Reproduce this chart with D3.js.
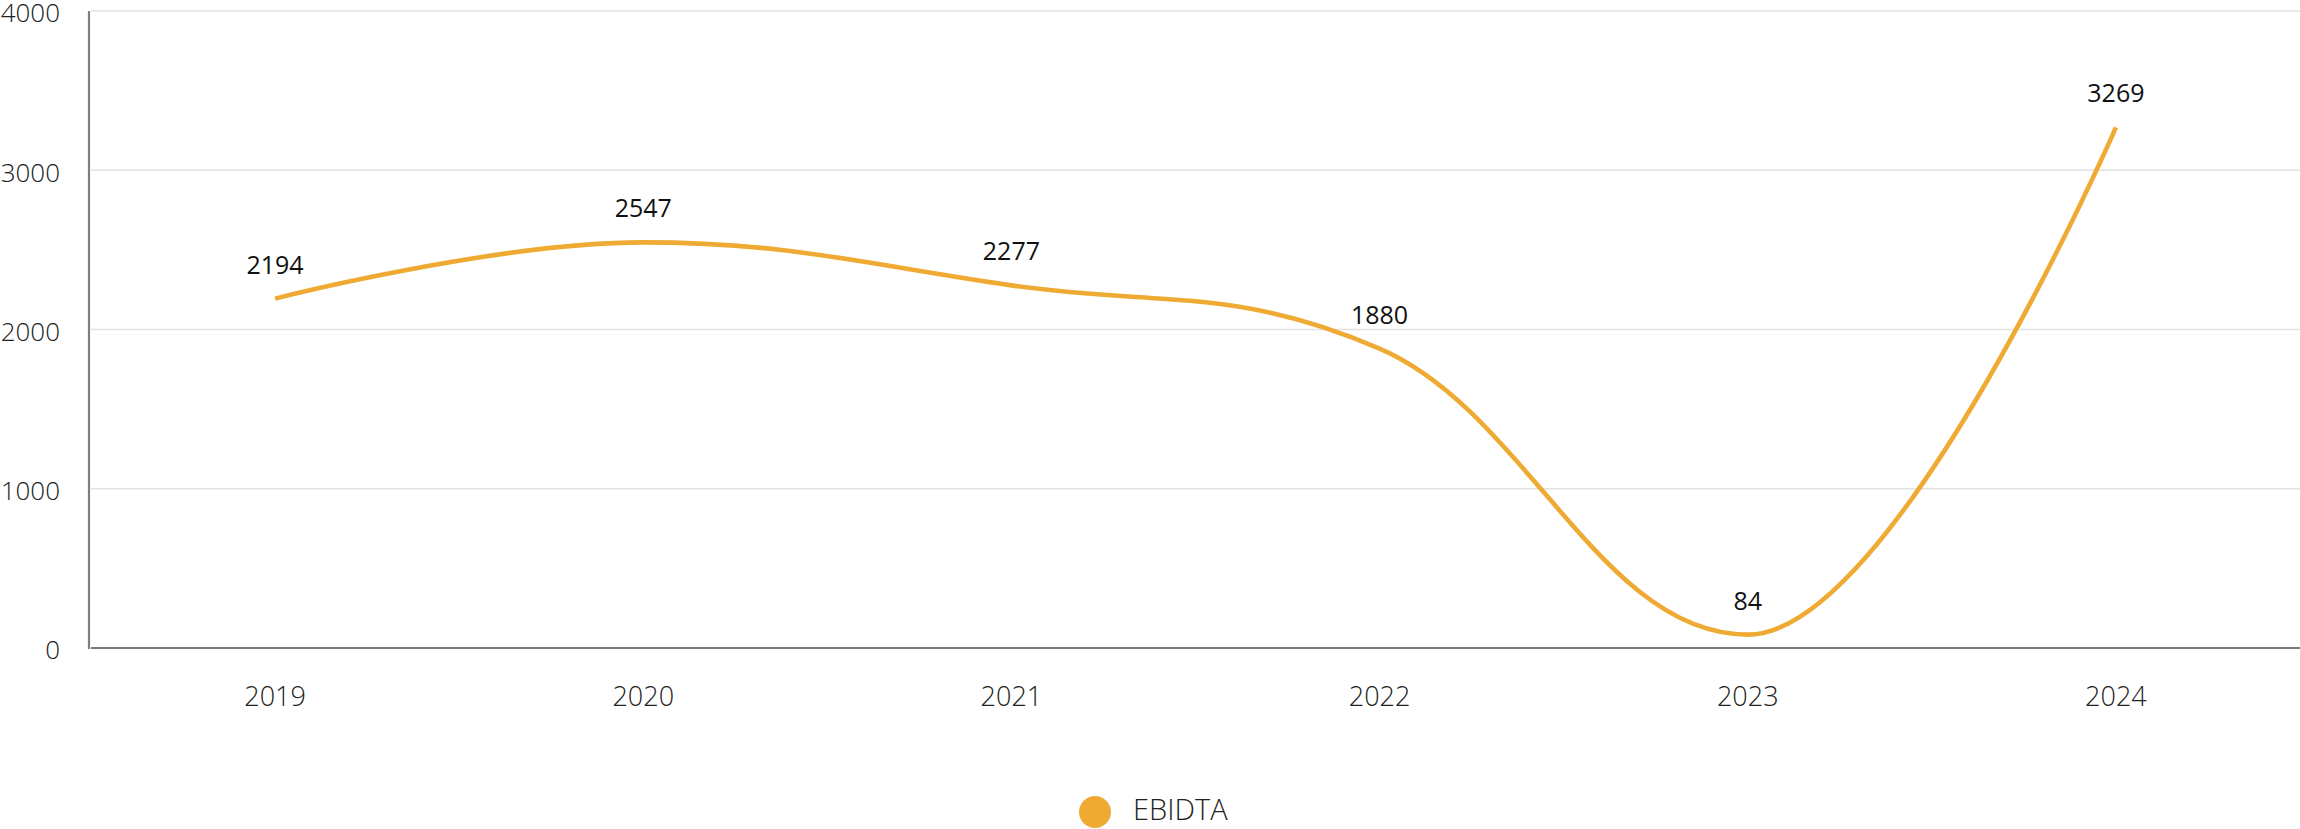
<!DOCTYPE html>
<html>
<head>
<meta charset="utf-8">
<script src="https://cdn.jsdelivr.net/npm/d3@7"></script>
<style>
  html, body { margin: 0; padding: 0; background: #fff; }
  svg { display: block; }
  text { font-family: "Open Sans", "Noto Sans", sans-serif; }
</style>
</head>
<body>
<svg id="chart" width="2300" height="829"></svg>
<script>
// ---- data ----
const years = ["2019", "2020", "2021", "2022", "2023", "2024"];
const ebidta = [2194, 2547, 2277, 1880, 84, 3269];
const yTicks = [0, 1000, 2000, 3000, 4000];
const seriesName = "EBIDTA";
const seriesColor = "#EFAA33";

const W = 2300, H = 829;
const plot = { left: 89, right: 2300, top: 11, bottom: 648 };

const svg = d3.select("#chart");

const x = d3.scalePoint().domain(years).range([plot.left + 2, plot.right]).padding(0.5);
const y = d3.scaleLinear().domain([0, 4000]).range([plot.bottom, plot.top]);

// gridlines
svg.append("g").selectAll("line")
  .data(yTicks.filter(d => d > 0))
  .join("line")
  .attr("x1", plot.left + 2).attr("x2", plot.right)
  .attr("y1", d => y(d)).attr("y2", d => y(d))
  .attr("stroke", "#e2e2e2").attr("stroke-width", 1.6);

// y axis labels
svg.append("g").selectAll("text")
  .data(yTicks)
  .join("text")
  .attr("x", 60).attr("y", d => y(d) + 2)
  .attr("dy", "0.36em")
  .attr("text-anchor", "end")
  .attr("font-size", 26).attr("font-weight", 300)
  .attr("fill", "#222")
  .text(d => d);

// x axis labels
svg.append("g").selectAll("text")
  .data(years)
  .join("text")
  .attr("x", d => x(d)).attr("y", 696)
  .attr("dy", "0.36em")
  .attr("text-anchor", "middle")
  .attr("font-size", 27).attr("font-weight", 300)
  .attr("fill", "#222")
  .text(d => d);

// axes lines
svg.append("line")
  .attr("x1", plot.left).attr("x2", plot.left)
  .attr("y1", plot.top).attr("y2", plot.bottom + 1)
  .attr("stroke", "#808080").attr("stroke-width", 2.2);
svg.append("line")
  .attr("x1", plot.left + 2).attr("x2", plot.right)
  .attr("y1", plot.bottom).attr("y2", plot.bottom)
  .attr("stroke", "#7a7a7a").attr("stroke-width", 2.2);

// spline (smoothing 1.5 with extreme-correction)
const pts = years.map((yr, i) => ({ x: x(yr), y: y(ebidta[i]) }));
const smoothing = 1.5, denom = smoothing + 1;
pts.forEach((p, i) => {
  const last = pts[i - 1], next = pts[i + 1];
  if (last && next) {
    const lcx = (smoothing * p.x + last.x) / denom;
    let lcy = (smoothing * p.y + last.y) / denom;
    const rcx = (smoothing * p.x + next.x) / denom;
    let rcy = (smoothing * p.y + next.y) / denom;
    const corr = ((rcy - lcy) * (rcx - p.x)) / (rcx - lcx) + p.y - rcy;
    lcy += corr; rcy += corr;
    if (lcy > last.y && lcy > p.y) { lcy = Math.max(last.y, p.y); rcy = 2 * p.y - lcy; }
    else if (lcy < last.y && lcy < p.y) { lcy = Math.min(last.y, p.y); rcy = 2 * p.y - lcy; }
    if (rcy > next.y && rcy > p.y) { rcy = Math.max(next.y, p.y); lcy = 2 * p.y - rcy; }
    else if (rcy < next.y && rcy < p.y) { rcy = Math.min(next.y, p.y); lcy = 2 * p.y - rcy; }
    p.lcx = lcx; p.lcy = lcy; p.rcx = rcx; p.rcy = rcy;
  } else {
    p.lcx = p.x; p.lcy = p.y; p.rcx = p.x; p.rcy = p.y;
  }
});
const path = d3.path();
pts.forEach((p, i) => {
  if (i === 0) path.moveTo(p.x, p.y);
  else {
    const l = pts[i - 1];
    path.bezierCurveTo(l.rcx, l.rcy, p.lcx, p.lcy, p.x, p.y);
  }
});
svg.append("path")
  .attr("d", path.toString())
  .attr("fill", "none")
  .attr("stroke", seriesColor)
  .attr("stroke-width", 4.6)
  .attr("stroke-linejoin", "round");

// data labels
svg.append("g").selectAll("text")
  .data(ebidta)
  .join("text")
  .attr("x", (d, i) => x(years[i]))
  .attr("y", d => y(d) - 34)
  .attr("dy", "0.36em")
  .attr("text-anchor", "middle")
  .attr("font-size", 25).attr("font-weight", 400)
  .attr("fill", "#111")
  .text(d => d);

// legend
const lg = svg.append("g");
lg.append("circle").attr("cx", 1095).attr("cy", 812).attr("r", 16).attr("fill", seriesColor);
lg.append("text").attr("x", 1133).attr("y", 810).attr("dy", "0.36em")
  .attr("font-size", 29).attr("font-weight", 300).attr("fill", "#222")
  .text(seriesName);
</script>
</body>
</html>
